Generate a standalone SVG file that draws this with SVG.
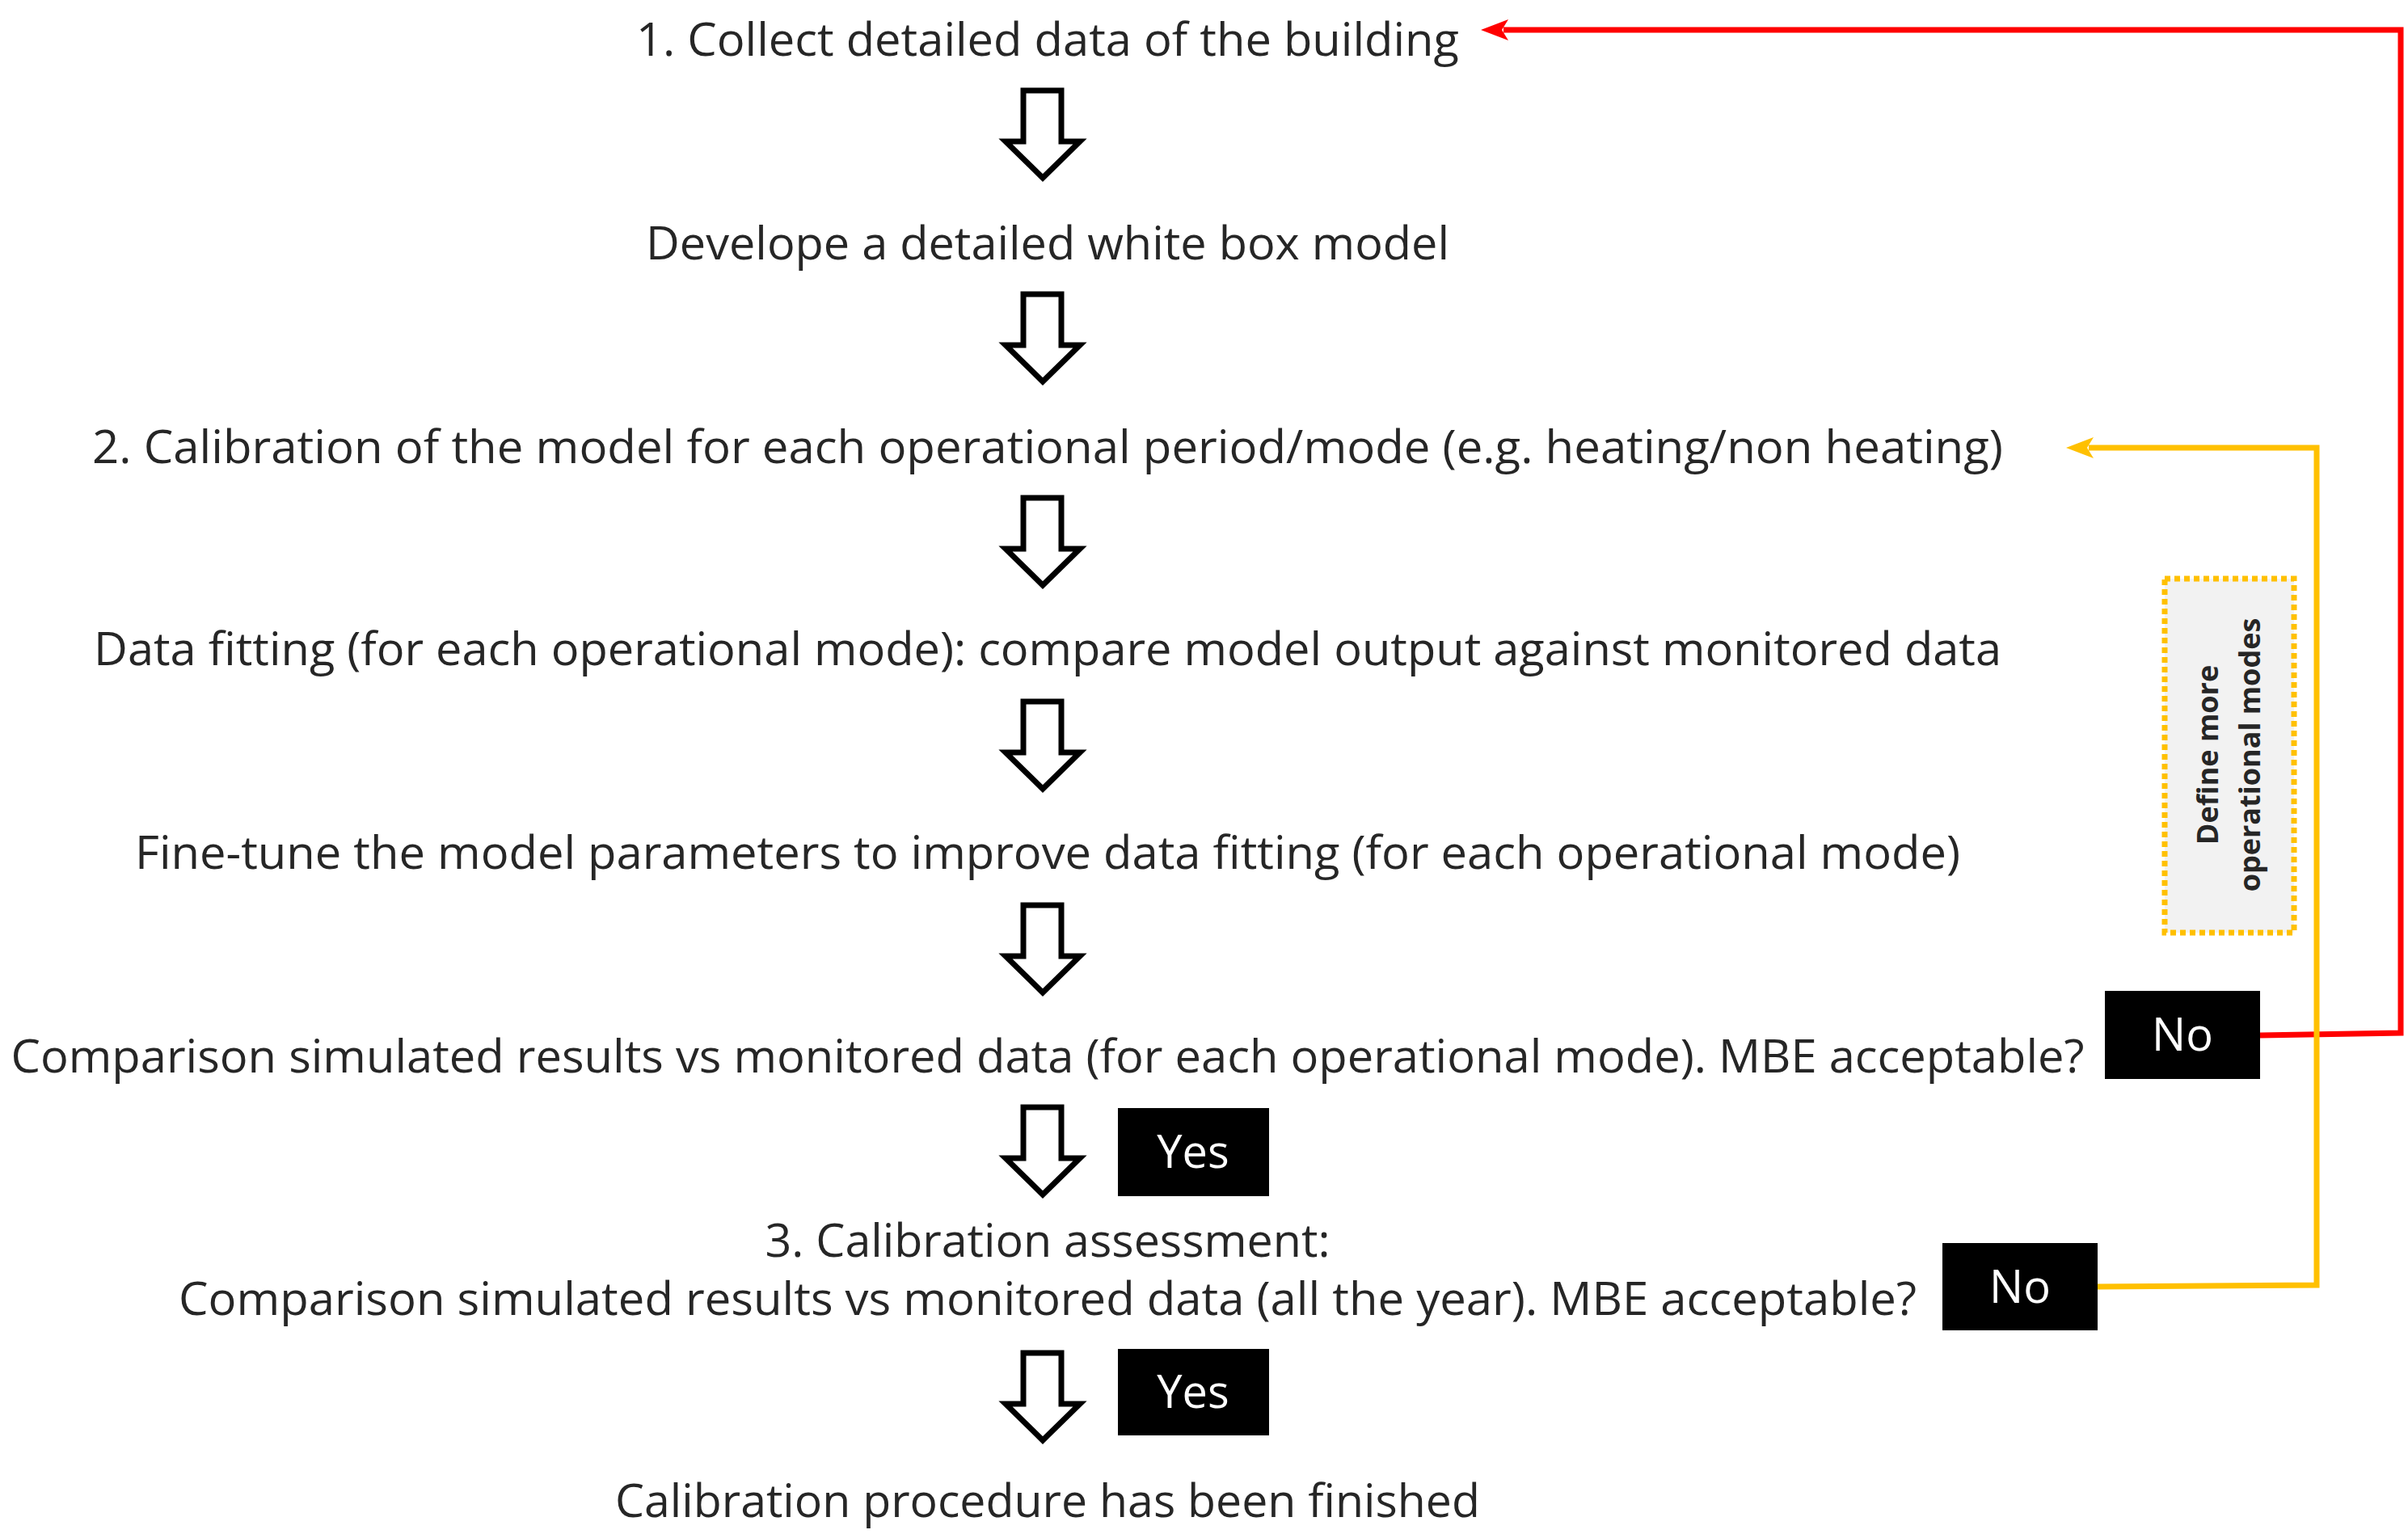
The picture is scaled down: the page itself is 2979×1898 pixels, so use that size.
<svg xmlns="http://www.w3.org/2000/svg" width="2979" height="1898" viewBox="0 0 2979 1898">
<style>
.t{font-family:"Open Sans","Liberation Sans",sans-serif;font-size:56px;fill:#262626;text-anchor:middle}
.b{fill:#000}
.bt{font-family:"Open Sans","Liberation Sans",sans-serif;font-size:56px;fill:#fff;text-anchor:middle}
.ar{fill:#fff;stroke:#000;stroke-width:7;stroke-linejoin:miter}
</style>
<defs>
<path id="arr" class="ar" d="M-24,0 H23 V63 H46 L0,108 L-46,63 H-24 Z"/>
<marker id="mr" markerWidth="6" markerHeight="6" refX="1" refY="3" orient="auto" markerUnits="strokeWidth"><path d="M6,0 L0,3 L6,6 L4.5,3 Z" fill="#ff0000" transform="rotate(180 3 3)"/></marker>
</defs>
<rect width="2979" height="1898" fill="#fff"/>
<g id="n1"><text class="t" x="1296" y="69" textLength="1018" lengthAdjust="spacingAndGlyphs">1. Collect detailed data of the building</text></g>
<g id="n2"><text class="t" x="1296" y="321" textLength="994" lengthAdjust="spacingAndGlyphs">Develope a detailed white box model</text></g>
<g id="n3"><text class="t" x="1296" y="573" textLength="2364" lengthAdjust="spacingAndGlyphs">2. Calibration of the model for each operational period/mode (e.g. heating/non heating)</text></g>
<g id="n4"><text class="t" x="1296" y="823" textLength="2360" lengthAdjust="spacingAndGlyphs">Data fitting (for each operational mode): compare model output against monitored data</text></g>
<g id="n5"><text class="t" x="1296" y="1075" textLength="2258" lengthAdjust="spacingAndGlyphs">Fine-tune the model parameters to improve data fitting (for each operational mode)</text></g>
<g id="n6"><text class="t" x="1296" y="1327" textLength="2565" lengthAdjust="spacingAndGlyphs">Comparison simulated results vs monitored data (for each operational mode). MBE acceptable?</text></g>
<g id="n7"><text class="t" x="1296" y="1555" textLength="699" lengthAdjust="spacingAndGlyphs">3. Calibration assessment:</text>
<text class="t" x="1296" y="1627" textLength="2150" lengthAdjust="spacingAndGlyphs">Comparison simulated results vs monitored data (all the year). MBE acceptable?</text></g>
<g id="n8"><text class="t" x="1296" y="1877" textLength="1070" lengthAdjust="spacingAndGlyphs">Calibration procedure has been finished</text></g>
<g id="yes1"><rect class="b" x="1383" y="1371" width="187" height="109"/><text class="bt" x="1476" y="1445">Yes</text></g>
<g id="yes2"><rect class="b" x="1383" y="1669" width="187" height="107"/><text class="bt" x="1476" y="1742">Yes</text></g>
<g id="no1"><rect class="b" x="2604" y="1226" width="192" height="109"/><text class="bt" x="2700" y="1300">No</text></g>
<g id="no2"><rect class="b" x="2403" y="1538" width="192" height="108"/><text class="bt" x="2499" y="1612">No</text></g>
<g id="note"><rect x="2678" y="716" width="160" height="438" fill="#f2f2f2" stroke="#ffc000" stroke-width="7" stroke-dasharray="7,5"/>
<text transform="translate(2744,934) rotate(-90)" font-family="Open Sans, Liberation Sans, sans-serif" font-weight="bold" font-size="36" fill="#262626" text-anchor="middle">Define more</text>
<text transform="translate(2796,934) rotate(-90)" font-family="Open Sans, Liberation Sans, sans-serif" font-weight="bold" font-size="36" fill="#262626" text-anchor="middle">operational modes</text></g>
<g id="connectors">
<use href="#arr" x="1290" y="112"/>
<use href="#arr" x="1290" y="364"/>
<use href="#arr" x="1290" y="616"/>
<use href="#arr" x="1290" y="868"/>
<use href="#arr" x="1290" y="1120"/>
<use href="#arr" x="1290" y="1370"/>
<use href="#arr" x="1290" y="1674"/>
<polyline points="2796,1281 2970,1278 2970,37 1860,37" fill="none" stroke="#ff0000" stroke-width="7"/>
<path d="M1832,37 L1866,24 L1858,37 L1866,50 Z" fill="#ff0000"/>
<polyline points="2595,1592 2866,1590 2866,554 2584,554" fill="none" stroke="#ffc000" stroke-width="7"/>
<path d="M2556,554 L2590,541 L2582,554 L2590,567 Z" fill="#ffc000"/>
</g>
</svg>
